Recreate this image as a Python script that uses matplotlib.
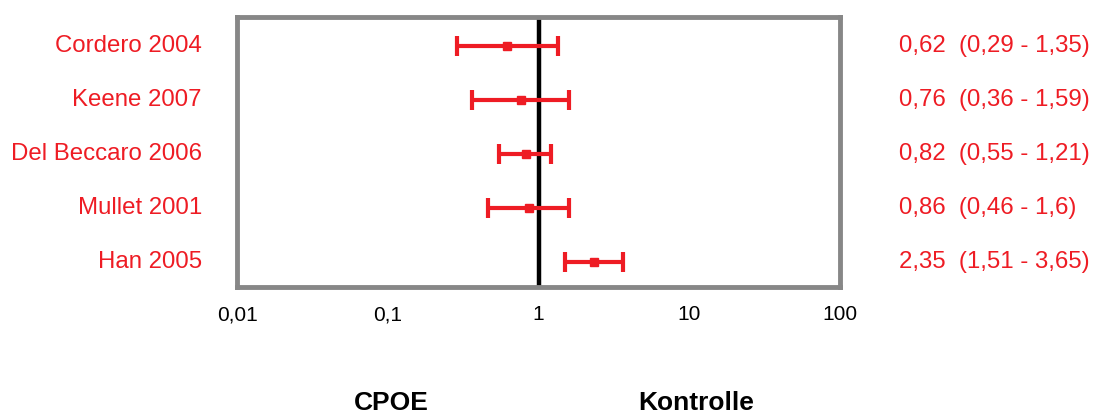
import matplotlib.pyplot as plt

plt.rcParams["font.family"] = ["Liberation Sans", "DejaVu Sans"]

# - Data

studies = ["Cordero 2004", "Keene 2007", "Del Beccaro 2006", "Mullet 2001", "Han 2005"]
odds_ratio = [0.62, 0.76, 0.82, 0.86, 2.35]
ci_low = [0.29, 0.36, 0.55, 0.46, 1.51]
ci_high = [1.35, 1.59, 1.21, 1.6, 3.65]
ci_labels = ["0,62  (0,29 - 1,35)", "0,76  (0,36 - 1,59)", "0,82  (0,55 - 1,21)",
             "0,86  (0,46 - 1,6)", "2,35  (1,51 - 3,65)"]
tick_values = [0.01, 0.1, 1, 10, 100]
tick_labels = ["0,01", "0,1", "1", "10", "100"]

red = "#ee1c24"

# - Figure

fig = plt.figure(figsize=(11.02, 4.13), dpi=100)
ax = fig.add_axes([237 / 1102, 1 - 287 / 413, 603 / 1102, 270.5 / 413])

ypos = list(range(len(studies), 0, -1))

ax.axvline(1, color="black", lw=3.2, zorder=2)

for y, m, lo, hi in zip(ypos, odds_ratio, ci_low, ci_high):
    ax.errorbar(m, y, xerr=[[m - lo], [hi - m]], fmt="s", color=red, ms=6,
                elinewidth=3, capsize=7.5, capthick=3, zorder=3)

ax.set_xscale("log")
ax.set_xlim(0.01, 100)
ax.set_ylim(0.537, 5.546)
ax.set_xticks(tick_values)
ax.set_xticklabels(tick_labels, fontsize=15)
ax.minorticks_off()
ax.tick_params(axis="x", length=0, pad=13)
ax.set_yticks([])

for spine in ax.spines.values():
    spine.set_color("#878787")
    spine.set_linewidth(3.5)

# - Labels left and right

for y, name, lab in zip(ypos, studies, ci_labels):
    ax.annotate(name, xy=(0, y), xycoords=("axes fraction", "data"), xytext=(-35, 0),
                textcoords="offset pixels", ha="right", va="center", color=red, fontsize=17.3)
    ax.annotate(lab, xy=(1, y), xycoords=("axes fraction", "data"), xytext=(59, 0),
                textcoords="offset pixels", ha="left", va="center", color=red, fontsize=17.3)

fig.text(391 / 1102, 1 - 403 / 413, "CPOE", ha="center", va="center", fontsize=19, fontweight="bold")
fig.text(696 / 1102, 1 - 403 / 413, "Kontrolle", ha="center", va="center", fontsize=19, fontweight="bold")

plt.savefig("out.png", dpi=100)
